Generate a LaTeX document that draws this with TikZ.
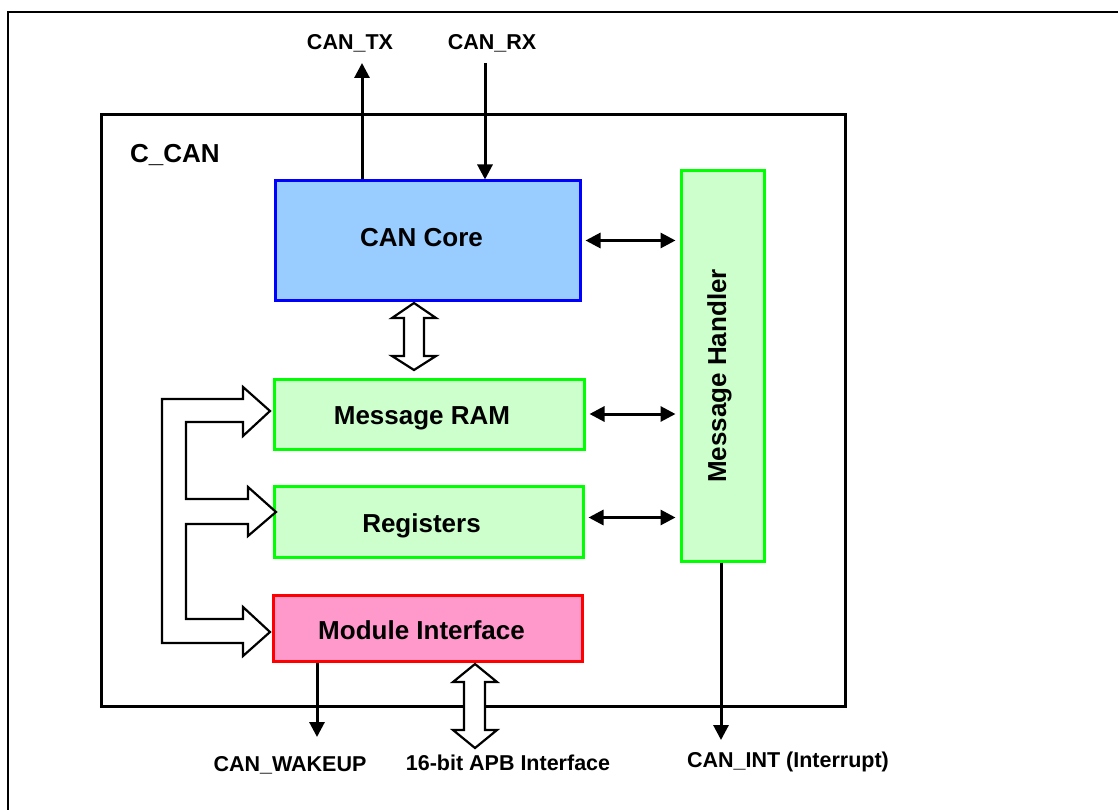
\documentclass[tikz,border=0pt]{standalone}
\usepackage{fontspec}
\setmainfont{Liberation Sans}
\usepackage{xcolor}
\usetikzlibrary{arrows.meta,positioning,calc}

\definecolor{coreblue}{HTML}{99CCFF}
\definecolor{lightgreen}{HTML}{CCFFCC}
\definecolor{pinkfill}{HTML}{FF99CC}

\begin{document}
\begin{tikzpicture}[
    x=1pt, y=-1pt,
    >={Triangle[length=15pt,width=15pt]},
    font=\bfseries,
    bloc/.style={draw, line width=3pt, inner sep=0pt},
    blocfont/.style={font=\fontsize{26}{30}\selectfont\bfseries, inner sep=0pt,
                     text height=19pt, text depth=0pt},
    sig/.style={line width=3pt},
    hollow/.style={draw, line width=2.2pt, fill=white, line join=miter},
    pin/.style={font=\fontsize{21.5}{25}\selectfont\bfseries, inner sep=0pt},
  ]
    \useasboundingbox (0,0) rectangle (1118,810);

    % --- outer frame (only top and left visible) ---
    \draw[line width=2pt] (8,810) -- (8,12) -- (1118,12);

    % --- C_CAN module ---
    \node[draw, line width=3pt, minimum width=744pt, minimum height=591pt,
          inner sep=0pt] (ccan) at (473,410.5) {};
    \node[blocfont, anchor=west] (ccanlbl) at (130,153) {C\_CAN};

    % --- inner blocks ---
    \node[bloc, draw=blue, fill=coreblue, minimum width=305pt, minimum height=119pt]
      (core) at (427.5,240.5) {};
    \node[bloc, draw=green, fill=lightgreen, minimum width=83pt, minimum height=390pt]
      (mh) at (722.5,366) {};
    \node[bloc, draw=green, fill=lightgreen, minimum width=310pt, minimum height=70pt]
      (ram) at (429,414) {};
    \node[bloc, draw=green, fill=lightgreen, minimum width=309pt, minimum height=71pt]
      (reg) at (428.5,521.5) {};
    \node[bloc, draw=red, fill=pinkfill, minimum width=309pt, minimum height=66pt]
      (mif) at (427.5,628) {};

    % block texts sit a little left of centre
    \node[blocfont] (corelbl) at ($(core.center)+(-6,-3)$) {CAN Core};
    \node[blocfont] (ramlbl) at ($(ram.center)+(-7,1)$) {Message RAM};
    \node[blocfont] (reglbl) at ($(reg.center)+(-7,1)$) {Registers};
    \node[blocfont] (miflbl) at ($(mif.center)+(-6,2)$) {Module Interface};
    \node[blocfont, rotate=90] (mhlbl) at ($(mh.center)+(-6,10)$) {Message Handler};

    % --- pin labels ---
    \node[pin] (tx) at (350,43) {CAN\_TX};
    \node[pin] (rx) at (492,43) {CAN\_RX};
    \node[pin] (wake) at (290,765) {CAN\_WAKEUP};
    \node[pin] (apb) at (508,763) {16-bit APB Interface};
    \node[pin] (int) at (788,762) {CAN\_INT (Interrupt)};

    \coordinate (txend) at (362,63);
    \coordinate (rxbeg) at (485,63);
    \coordinate (wakeend) at (317,737);
    \coordinate (intend) at (721,740);

    % --- external signals ---
    \draw[sig, ->] (core.north -| txend) -- (txend);
    \draw[sig, ->] (rxbeg) -- (core.north -| rxbeg);
    \draw[sig, ->] (mif.south -| wakeend) -- (wakeend);
    \draw[sig, ->] (mh.south -| intend) -- (intend);

    % --- links to the message handler ---
    \draw[sig, <->, shorten <=4pt, shorten >=4pt] (core.east) -- (core.east -| mh.west);
    \draw[sig, <->, shorten <=4pt, shorten >=4pt] (ram.east) -- (ram.east -| mh.west);
    \draw[sig, <->, shorten <=4pt, shorten >=4pt] ($(reg.east)+(0,-4)$) -- ($(reg.east -| mh.west)+(0,-4)$);

    % --- hollow bus arrows ---
    \draw[hollow] (414,303) -- (436,318) -- (424,318) -- (424,356) -- (436,356)
      -- (414,370) -- (392,356) -- (404,356) -- (404,318) -- (392,318) -- cycle;
    \draw[hollow] (475,664) -- (497,682) -- (485,682) -- (485,730) -- (497,730)
      -- (475,748) -- (453,730) -- (464,730) -- (464,682) -- (453,682) -- cycle;
    \draw[hollow] (162,399) -- (243,399) -- (243,387) -- (270,411) -- (243,436)
      -- (243,422) -- (186,422) -- (186,499) -- (248,499) -- (248,487)
      -- (276,512) -- (248,536) -- (248,524) -- (186,524) -- (186,619)
      -- (243,619) -- (243,607) -- (270,632) -- (243,656) -- (243,643)
      -- (162,643) -- cycle;
  \end{tikzpicture}
\end{document}
